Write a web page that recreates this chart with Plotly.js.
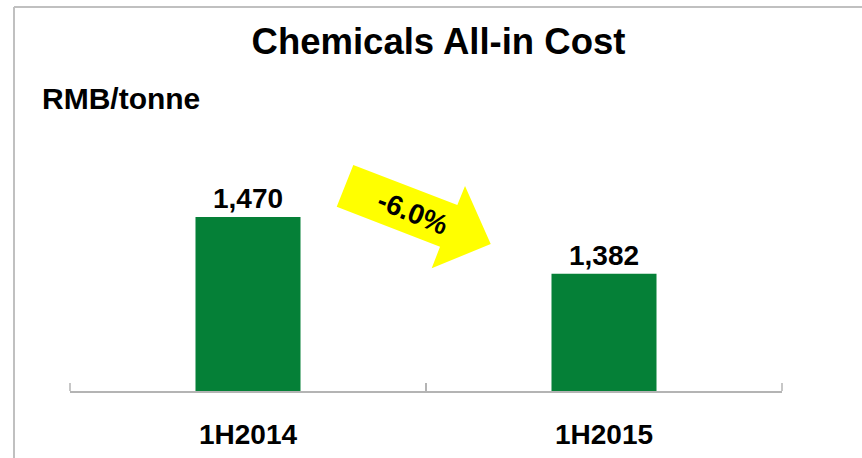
<!DOCTYPE html>
<html>
<head>
<meta charset="utf-8">
<script src="https://cdn.plot.ly/plotly-3.0.1.min.js"></script>
<style>html,body{margin:0;padding:0;background:#fff;}#chart{width:862px;height:458px;}</style>
</head>
<body>
<div id="chart"></div>
<script>
const categories = ["1H2014", "1H2015"];
const costValues = [1470, 1382];
const changeLabel = "-6.0%";
const chartTitle = "Chemicals All-in Cost";
const unitLabel = "RMB/tonne";

const W = 862, H = 458;
const M = {l: 70, r: 80, t: 80, b: 67};
const plotW = W - M.l - M.r, plotH = H - M.t - M.b;
function px(x) { return (x - M.l) / plotW; }
function py(y) { return (H - M.b - y) / plotH; }
function pathFrom(pts) {
  return pts.map((p, i) => (i ? 'L' : 'M') + px(p[0]).toFixed(4) + ',' + py(p[1]).toFixed(4)).join(' ') + ' Z';
}

const FONT = 'Liberation Sans, Arial, sans-serif';
const AXIS_GREY = '#b4b4b4';

const arrowPts = [[353.3,165],[457.3,205],[465,186],[490.7,244],[431.7,268.3],[440,246.7],[336.7,206.7]];

const trace = {
  type: 'bar',
  x: categories,
  y: costValues,
  marker: {color: '#058037'},
  text: costValues.map(v => v.toLocaleString('en-US')),
  texttemplate: '%{text}',
  textposition: 'outside',
  cliponaxis: false,
  textfont: {family: FONT, size: 28, color: '#000', weight: 'bold'},
  hoverinfo: 'skip'
};

const edgeTicks = [0, 1].map(xp => ({
  type: 'line', xref: 'paper', yref: 'paper', x0: xp, x1: xp, y0: 0, y1: 8 / plotH,
  line: {color: AXIS_GREY, width: 1.5}
}));

const layout = {
  width: W, height: H,
  margin: M,
  paper_bgcolor: '#fff', plot_bgcolor: '#fff',
  showlegend: false,
  bargap: 0.705,
  title: {text: chartTitle, font: {family: FONT, size: 36.5, color: '#000', weight: 'bold'},
          xref: 'container', x: 438.5 / W, xanchor: 'center', yref: 'container', y: 1 - 41 / H, yanchor: 'middle'},
  xaxis: {
    type: 'category',
    showline: true, linecolor: AXIS_GREY, linewidth: 1.5,
    ticks: 'inside', ticklen: 8, tickcolor: AXIS_GREY, tickwidth: 1.5,
    tickson: 'boundaries',
    showgrid: false, zeroline: false,
    tickfont: {family: FONT, size: 28, color: '#000', weight: 'bold'},
    ticklabelstandoff: 18
  },
  yaxis: {range: [1200, 1200 + plotH / 0.6444], visible: false, showgrid: false, zeroline: false, fixedrange: true},
  shapes: [
    {type: 'path', xref: 'paper', yref: 'paper', path: pathFrom(arrowPts), fillcolor: '#ffff00', line: {width: 0}, layer: 'above'},
    {type: 'line', xref: 'paper', yref: 'paper', x0: px(14), x1: px(14), y0: py(7), y1: py(H + 5), line: {color: '#c0c0c0', width: 2}},
    {type: 'line', xref: 'paper', yref: 'paper', x0: px(14), x1: px(W + 5), y0: py(7), y1: py(7), line: {color: '#c0c0c0', width: 2}}
  ].concat(edgeTicks),
  annotations: [
    {text: unitLabel, xref: 'paper', yref: 'paper', x: px(40), y: py(98.5), xanchor: 'left', yanchor: 'middle', showarrow: false,
     font: {family: FONT, size: 30, color: '#000', weight: 'bold'}},
    {text: changeLabel, xref: 'paper', yref: 'paper', x: px(412), y: py(213), xanchor: 'center', yanchor: 'middle', showarrow: false,
     textangle: 22, font: {family: FONT, size: 28, color: '#000', weight: 'bold'}}
  ]
};

Plotly.newPlot('chart', [trace], layout, {staticPlot: true, displayModeBar: false});
</script>
</body>
</html>
